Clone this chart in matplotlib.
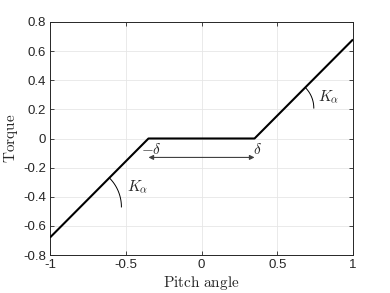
import numpy as np
import matplotlib
matplotlib.use("Agg")
import matplotlib.pyplot as plt

plt.rcParams['font.family'] = ['Liberation Sans', 'DejaVu Sans']
plt.rcParams['mathtext.fontset'] = 'cm'

# data
pitch = [-1.0, -0.35, 0.35, 1.0]
torque = [-0.68, 0.0, 0.0, 0.68]
delta = 0.35
xticks = [-1, -0.5, 0, 0.5, 1]
xticklabels = ['-1', '-0.5', '0', '0.5', '1']
yticks = [-0.8, -0.6, -0.4, -0.2, 0, 0.2, 0.4, 0.6, 0.8]
yticklabels = ['-0.8', '-0.6', '-0.4', '-0.2', '0', '0.2', '0.4', '0.6', '0.8']

fig = plt.figure(figsize=(3.9, 2.93), dpi=100)
ax = fig.add_axes([50/390, 1-255/293, (353-50)/390, (255-22)/293])
ax.plot(pitch, torque, color='black', lw=1.5, solid_capstyle='butt', zorder=3)
ax.set_xlim(-1, 1)
ax.set_ylim(-0.8, 0.8)
ax.set_xticks(xticks)
ax.set_xticklabels(xticklabels)
ax.set_yticks(yticks)
ax.set_yticklabels(yticklabels)
ax.grid(True, color='#e6e6e6', lw=0.6, zorder=0)
ax.set_axisbelow(True)
ax.tick_params(direction='in', length=3, width=0.6, colors='#262626', labelsize=9.5,
               top=True, right=True, pad=3, labelcolor='#262626')
for s in ax.spines.values():
    s.set_color('#262626')
    s.set_linewidth(0.7)
ax.set_xlabel(r'$\mathrm{Pitch\ angle}$', fontsize=11, color='#262626', labelpad=2)
ax.set_ylabel(r'$\mathrm{Torque}$', fontsize=11, color='#262626')
ax.yaxis.set_label_coords(-0.1, 0.5)

# double arrow between -delta and delta
ax.annotate('', xy=(delta, -0.13), xytext=(-delta, -0.13),
            arrowprops=dict(arrowstyle='<|-|>', color='#404040', lw=0.8,
                            mutation_scale=7, shrinkA=0, shrinkB=0))
ax.text(-delta + 0.02, -0.025, r'$-\delta$', fontsize=11, ha='center', va='top', color='#262626')
ax.text(delta + 0.02, -0.025, r'$\delta$', fontsize=11, ha='center', va='top', color='#262626')

# angle arcs
pxx = 151.5
pxy = 145.6
def arc(cx, cy, r):
    t = np.linspace(0, np.pi/4, 40)
    ax.plot(cx + r/pxx*np.cos(t), cy + r/pxy*np.sin(t), color='black', lw=0.7)

slope = 0.68/0.65
cy1 = -0.47
arc(-delta + cy1/slope, cy1, 41)
ax.text(-0.49, -0.33, r'$K_\alpha$', fontsize=11, ha='left', va='center', color='#262626')
cy2 = 0.209
arc(delta + cy2/slope, cy2, 29)
ax.text(0.77, 0.29, r'$K_\alpha$', fontsize=11, ha='left', va='center', color='#262626')

fig.savefig('out.png', dpi=100)
